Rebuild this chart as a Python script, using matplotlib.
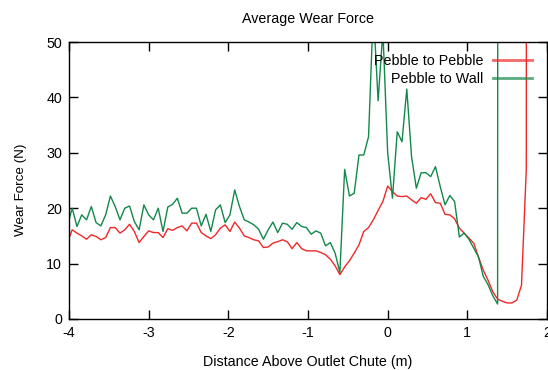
import matplotlib
matplotlib.use("Agg")
import matplotlib.pyplot as plt
import numpy as np

plt.rcParams['font.family'] = ['Liberation Sans', 'DejaVu Sans']

title = "Average Wear Force"
xlabel = "Distance Above Outlet Chute (m)"
ylabel = "Wear Force (N)"
series_names = ["Pebble to Pebble", "Pebble to Wall"]

x_start = -4.02
x_step = 0.06

pebble_to_pebble = [
    13.85,
    16.1, 15.5, 15.0, 14.4, 15.2, 14.9, 14.3, 14.7, 16.5, 16.5,
    15.5, 16.1, 17.1, 15.8, 13.8, 14.9, 15.9, 15.6, 15.6, 14.7,
    16.3, 16.0, 16.5, 16.8, 15.9, 17.3, 17.3, 15.6, 15.0, 14.5,
    15.2, 16.4, 17.0, 15.8, 17.5, 16.4, 15.0, 14.7, 14.3, 14.1,
    12.9, 13.0, 13.7, 13.95, 14.3, 13.95, 12.7, 13.8, 12.7, 12.3,
    12.3, 12.3, 12.0, 11.6, 10.8, 9.6, 8.0, 9.4, 10.5, 11.9,
    13.4, 15.8, 16.5, 17.9, 19.6, 21.2, 24.0, 23.0, 22.2, 22.1,
    22.2, 21.5, 20.9, 21.9, 21.6, 22.6, 21.0, 20.9, 18.9, 18.8,
    18.1, 16.4, 15.5, 14.6, 13.7, 11.2, 8.8, 7.0, 4.9, 3.6,
    3.2, 2.9, 2.9, 3.4, 6.1, 27.0, 2000.0,
]

pebble_to_wall = [
    16.9,
    20.0, 16.7, 18.8, 17.9, 20.3, 17.4, 16.8, 18.8, 22.2, 20.3,
    17.9, 20.0, 20.4, 17.6, 16.1, 20.6, 18.8, 17.9, 20.0, 15.8,
    20.2, 20.7, 21.8, 19.1, 19.1, 20.0, 20.0, 16.8, 18.9, 15.8,
    19.7, 20.6, 17.4, 18.8, 23.3, 20.3, 17.9, 17.5, 17.0, 16.2,
    14.4, 16.1, 17.5, 15.6, 17.3, 17.1, 16.2, 17.4, 16.7, 16.5,
    15.3, 15.9, 15.5, 13.2, 13.8, 11.9, 8.4, 27.0, 22.2, 22.7,
    29.6, 29.6, 32.9, 56.0, 39.4, 52.0, 30.0, 21.8, 33.8, 32.0,
    41.5, 29.3, 23.6, 26.4, 26.4, 25.7, 27.5, 23.9, 20.6, 22.3,
    21.2, 14.8, 15.5, 14.4, 12.8, 11.2, 7.7, 6.2, 4.2, 2.7,
    2000.0,
]

x_ticks = [-4, -3, -2, -1, 0, 1, 2]
y_ticks = [0, 10, 20, 30, 40, 50]

red = '#f02828'
green = '#13884a'
fs = 10.3

fig = plt.figure(figsize=(5.48, 3.70), dpi=100)
ax = fig.add_axes([69 / 548, 51 / 370, 478 / 548, 277 / 370])

x_red = x_start + x_step * np.arange(len(pebble_to_pebble))
x_green = x_start + x_step * np.arange(len(pebble_to_wall))

ax.plot(x_red, pebble_to_pebble, color=red, lw=1.0, label=series_names[0])
ax.plot(x_green, pebble_to_wall, color=green, lw=1.0, label=series_names[1])

ax.set_xlim(-4, 2)
ax.set_ylim(0, 50)
ax.set_xticks(x_ticks)
ax.set_yticks(y_ticks)
ax.set_xticklabels([str(v) for v in x_ticks])
ax.tick_params(direction='in', length=6.3, width=1.0, top=True, right=True,
               labelsize=fs, pad=5, colors='black')
for s in ax.spines.values():
    s.set_linewidth(1.0)
    s.set_color('black')

ax.set_title(title, fontsize=fs, pad=14)
ax.set_xlabel(xlabel, fontsize=fs, labelpad=11)
ax.set_ylabel(ylabel, fontsize=9.6)
ax.yaxis.set_label_coords(-0.088, 0.465)

leg = ax.legend(loc='upper right', bbox_to_anchor=(0.9686, 0.957),
                frameon=False, markerfirst=False, fontsize=fs,
                handlelength=2.7, handletextpad=0.7, labelspacing=0.3,
                borderpad=0, borderaxespad=0)
for line in leg.get_lines():
    line.set_linewidth(2.0)
    line.set_alpha(0.7)

fig.savefig('out.png', dpi=100)
